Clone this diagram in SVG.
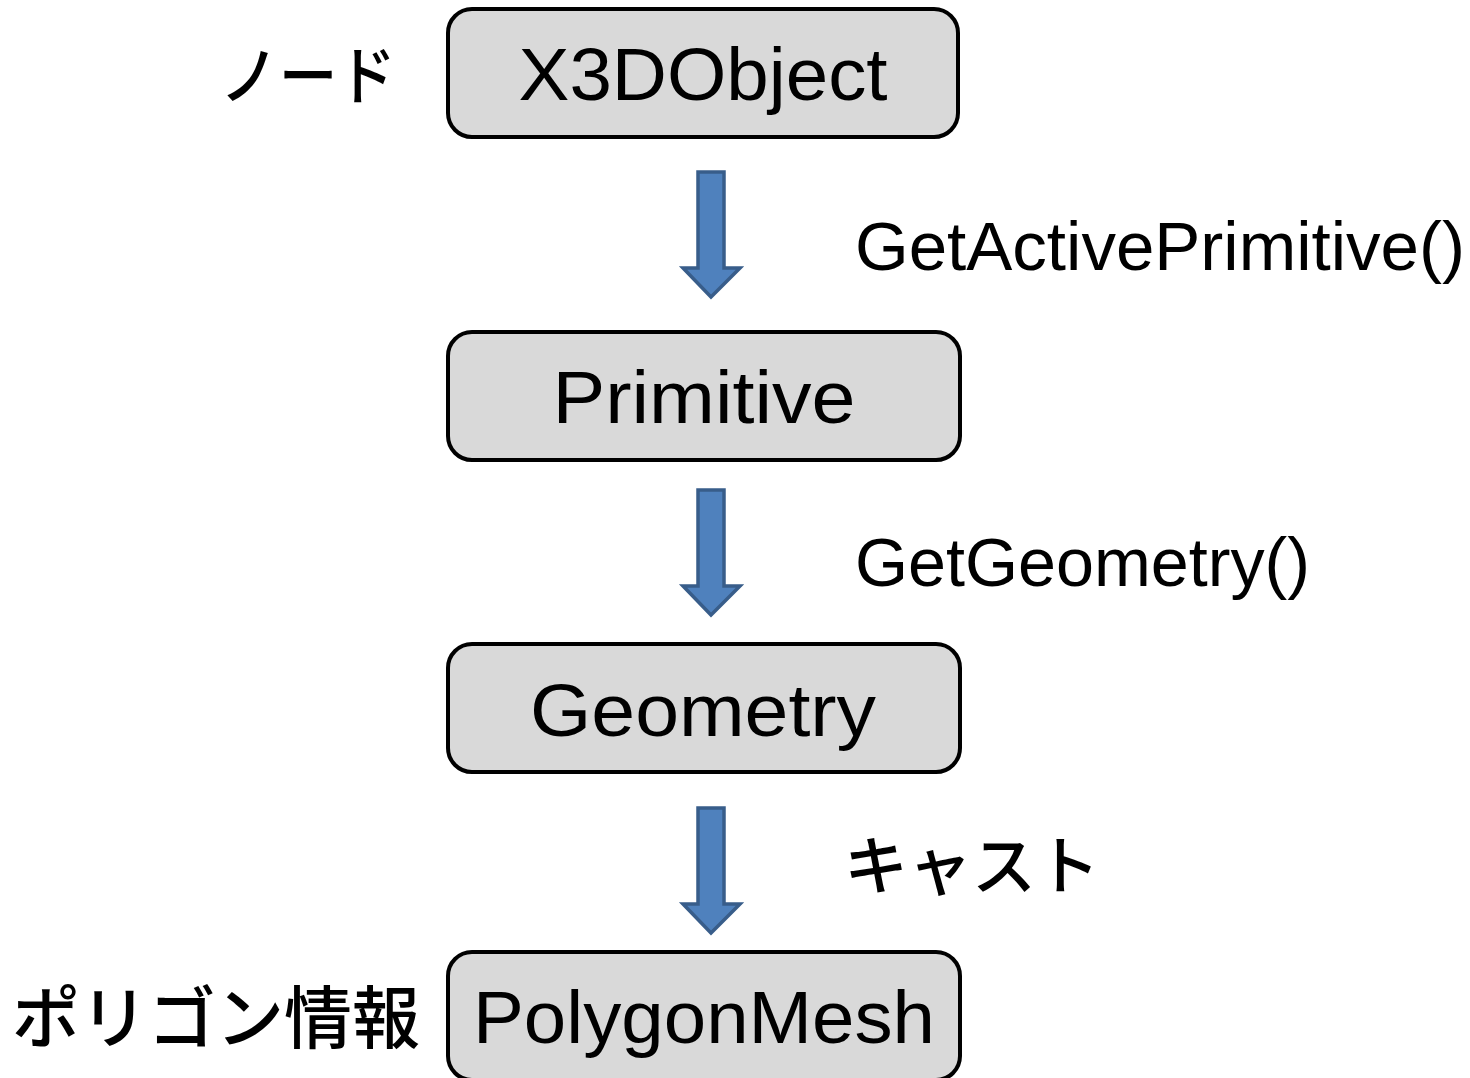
<svg xmlns="http://www.w3.org/2000/svg" width="1470" height="1078" viewBox="0 0 1470 1078">
  <style>
    .box { fill: #D9D9D9; stroke: #000000; stroke-width: 4; }
    .name { font-family: "Liberation Sans", Arial, sans-serif; font-size: 74px; fill: #000; text-anchor: middle; }
    .call { font-family: "Liberation Sans", Arial, sans-serif; font-size: 69px; fill: #000; }
    .jp { font-family: "Noto Sans CJK JP", "Noto Sans", sans-serif; font-weight: 500; fill: #000; }
    .arrow { fill: #4F81BD; stroke: #385D8A; stroke-width: 3.5; stroke-linejoin: miter; }
  </style>
  <defs>
    <polygon id="down" class="arrow" points="698,0 724,0 724,96 740,96 711,125 683,96 698,96"/>
  </defs>

  <g id="connectors">
    <use href="#down" y="172"/>
    <use href="#down" y="490"/>
    <use href="#down" y="808"/>
  </g>

  <g id="node-x3dobject">
    <rect class="box" x="448" y="9" width="510" height="128" rx="24" ry="24"/>
    <text class="name" x="703" y="100" textLength="369" lengthAdjust="spacingAndGlyphs">X3DObject</text>
  </g>
  <g id="node-primitive">
    <rect class="box" x="448" y="332" width="512" height="128" rx="24" ry="24"/>
    <text class="name" x="704" y="423" textLength="303" lengthAdjust="spacingAndGlyphs">Primitive</text>
  </g>
  <g id="node-geometry">
    <rect class="box" x="448" y="644" width="512" height="128" rx="24" ry="24"/>
    <text class="name" x="703" y="736" textLength="346" lengthAdjust="spacingAndGlyphs">Geometry</text>
  </g>
  <g id="node-polygonmesh">
    <rect class="box" x="448" y="952" width="512" height="128" rx="24" ry="24"/>
    <text class="name" x="704" y="1043" textLength="462" lengthAdjust="spacingAndGlyphs">PolygonMesh</text>
  </g>

  <g id="labels">
    <text class="call" x="855" y="270" textLength="610" lengthAdjust="spacingAndGlyphs">GetActivePrimitive()</text>
    <text class="call" x="855" y="586" textLength="455" lengthAdjust="spacingAndGlyphs">GetGeometry()</text>
    <text class="jp" x="220" y="99" font-size="64" textLength="176" lengthAdjust="spacingAndGlyphs">ノード</text>
    <text class="jp" x="844" y="889" font-size="64">キャスト</text>
    <text class="jp" x="12" y="1043" font-size="68">ポリゴン情報</text>
  </g>
</svg>
